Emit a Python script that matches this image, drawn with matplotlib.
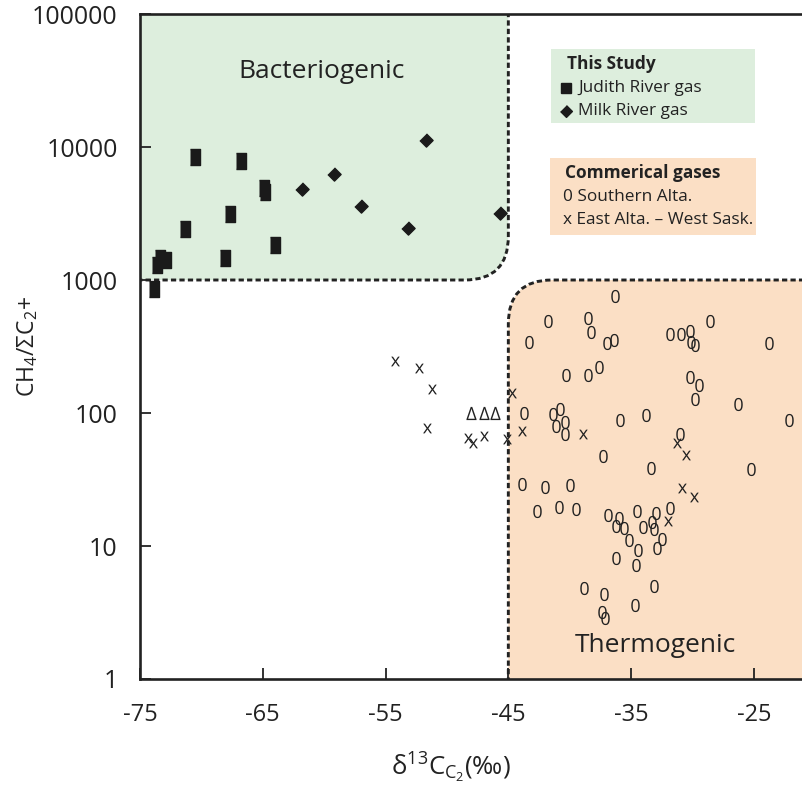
import math
import matplotlib
matplotlib.use("Agg")
import matplotlib.pyplot as plt
from matplotlib.patches import FancyBboxPatch, Rectangle

plt.rcParams['font.family'] = ['Open Sans', 'DejaVu Sans']
plt.rcParams['mathtext.fontset'] = 'custom'
plt.rcParams['mathtext.rm'] = 'Open Sans'
plt.rcParams['mathtext.it'] = 'Open Sans:italic'
plt.rcParams['mathtext.bf'] = 'Open Sans:bold'

# ---------------- data ----------------
judith_x = [-73.9, -73.6, -73.4, -72.9, -71.3, -70.5, -68.1, -67.7, -66.8, -64.9, -64.8, -64.0]
judith_y = [860, 1300, 1460, 1410, 2420, 8400, 1460, 3130, 7850, 4900, 4600, 1830]

milk_x = [-61.8, -59.2, -57.0, -53.2, -51.7, -45.7]
milk_y = [4830, 6270, 3600, 2460, 11300, 3190]

east_x = [-54.2, -52.3, -51.2, -51.6, -48.25, -47.9, -46.95, -45.1, -44.7, -43.9,
          -38.9, -31.3, -30.5, -30.85, -29.9, -32.0]
east_y = [246, 218, 151, 77, 65, 59.5, 67, 64, 141, 73,
          69.5, 59.5, 48.3, 27.3, 23.4, 15.4]

south_x = [-36.3, -41.8, -38.5, -38.3, -28.6, -43.3, -37.0, -36.4, -31.8, -30.9,
           -30.2, -30.1, -29.8, -23.8, -37.6, -40.3, -38.5, -30.2, -29.5, -29.8,
           -26.3, -43.7, -41.4, -40.8, -41.1, -40.4, -40.4, -35.9, -33.8, -22.1,
           -31.0, -37.3, -33.4, -25.2, -43.9, -42.0, -40.0, -42.7, -40.9, -39.5,
           -36.9, -36.0, -36.2, -35.6, -34.5, -33.0, -33.3, -34.0, -33.1, -31.8,
           -32.5, -35.2, -34.4, -32.9, -36.2, -34.6, -38.8, -37.2, -33.1, -34.7,
           -37.4, -37.1]
south_y = [758, 494, 515, 404, 494, 344, 334, 354, 393, 393,
           414, 344, 325, 338, 223, 193, 193, 188, 162, 127,
           117, 100, 98, 107, 80, 86, 70, 89, 97, 89,
           70, 47.5, 38.4, 37.7, 29.3, 27.6, 28.7, 18.3, 19.5, 18.9,
           17.1, 16.2, 14.1, 13.6, 18.4, 17.6, 15.2, 14.0, 13.4, 19.4,
           11.3, 11.0, 9.33, 9.61, 8.17, 7.20, 4.86, 4.33, 5.03, 3.60,
           3.17, 2.86]

delta_x = [-48.0, -47.0, -46.1]
delta_y = [100, 100, 100]

boundary_x = -45
boundary_y = 1000

x_ticks = [-75, -65, -55, -45, -35, -25]
y_ticks = [1, 10, 100, 1000, 10000, 100000]
y_ticklabels = ['1', '10', '100', '1000', '10000', '100000']

GREEN = '#ddeedd'
ORANGE = '#fbdfc5'
INK = '#222222'

# ---------------- figure ----------------
W, H = 803, 787
fig = plt.figure(figsize=(W / 100, H / 100), dpi=100)
ax = fig.add_axes([140 / W, 108 / H, 663 / W, 665 / H])
ax.set_yscale('log')
ax.set_xlim(-75, -21)
ax.set_ylim(1, 100000)


def xa(v):
    x0, x1 = ax.get_xlim()
    return (v - x0) / (x1 - x0)


def ya(v):
    y0, y1 = ax.get_ylim()
    return (math.log10(v) - math.log10(y0)) / (math.log10(y1) - math.log10(y0))


bx, by = xa(boundary_x), ya(boundary_y)
dash = (0, (1.8, 1.1))
green = FancyBboxPatch((-0.3, by), bx + 0.3, 1.6 - by,
                       boxstyle='round,pad=0,rounding_size=0.066',
                       transform=ax.transAxes, facecolor=GREEN, edgecolor=INK,
                       linewidth=2.1, linestyle=dash, zorder=0.5)
orange = FancyBboxPatch((bx, -0.6), 1.6 - bx, by + 0.6,
                        boxstyle='round,pad=0,rounding_size=0.066',
                        transform=ax.transAxes, facecolor=ORANGE, edgecolor=INK,
                        linewidth=2.1, linestyle=dash, zorder=0.5)
for p in (green, orange):
    ax.add_patch(p)
    p.set_clip_path(ax.patch)

# data
rect_marker = [(-2, -3), (2, -3), (2, 3), (-2, 3)]
diam_marker = [(0, 1), (1, 0), (0, -1), (-1, 0)]
ax.plot(judith_x, judith_y, linestyle='none', marker=rect_marker, markersize=11,
        color='#1a1a1a', zorder=3)
ax.plot(milk_x, milk_y, linestyle='none', marker=diam_marker, markersize=9.5,
        color='#1a1a1a', zorder=3)
ax.plot(south_x, south_y, linestyle='none', marker=r'$\mathrm{0}$', markersize=9.5,
        color=INK, markeredgewidth=0, zorder=3)
ax.plot(east_x, east_y, linestyle='none', marker=r'$\mathrm{x}$', markersize=7,
        color=INK, markeredgewidth=0, zorder=3)
ax.plot(delta_x, delta_y, linestyle='none', marker=r'$\Delta$', markersize=9.5,
        color=INK, markeredgewidth=0, zorder=3)

# region labels
ax.text(-60.2, 37000, 'Bacteriogenic', fontsize=19, ha='center', va='center', color=INK)
ax.text(-33.05, 1.8, 'Thermogenic', fontsize=19, ha='center', va='center', color=INK)

# axes styling
for s in ('left', 'top', 'bottom'):
    ax.spines[s].set_linewidth(1.9)
    ax.spines[s].set_color(INK)
ax.spines['right'].set_visible(False)
ax.set_xticks(x_ticks)
ax.set_xticklabels([str(t) for t in x_ticks])
ax.set_yticks(y_ticks)
ax.set_yticklabels(y_ticklabels)
ax.yaxis.set_minor_locator(matplotlib.ticker.NullLocator())
ax.tick_params(axis='both', direction='in', length=8, width=1.3, color=INK,
               labelcolor=INK)
ax.tick_params(axis='x', pad=17, labelsize=17)
ax.tick_params(axis='y', pad=16, labelsize=18)

ax.set_ylabel(r'CH$_4$/ΣC$_2$+', fontsize=16.5, color=INK)
ax.yaxis.set_label_coords(-0.150, 0.50)
ax.set_xlabel(r'δ$^{13}$C$_{\mathrm{C}_{2}}$(‰)', fontsize=18.5, color=INK)
ax.xaxis.set_label_coords(0.469, -0.108)


# legend boxes (pixel positions -> axes fraction)
def axp(px, py):
    return ((px - 140) / 663, (679 - py) / 665)


def box(x0, y0, x1, y1, color):
    (ax0, ay1), (ax1, ay0) = axp(x0, y0), axp(x1, y1)
    ax.add_patch(Rectangle((ax0, ay0), ax1 - ax0, ay1 - ay0, transform=ax.transAxes,
                           facecolor=color, edgecolor='none', zorder=2, clip_on=False))


box(551, 49, 755, 123, GREEN)
box(550, 158, 756, 235, ORANGE)


def legtext(px, py, s, **kw):
    x, y = axp(px, py)
    ax.text(x, y, s, transform=ax.transAxes, ha='left', va='center', fontsize=12.4,
            color=INK, zorder=4, **kw)


legtext(567, 64, 'This Study', fontweight='bold')
x, y = axp(566, 88)
ax.plot([x], [y], transform=ax.transAxes, marker='s', markersize=7, color='#1a1a1a',
        linestyle='none', clip_on=False, zorder=4)
legtext(578, 88, 'Judith River gas')
x, y = axp(566, 111)
ax.plot([x], [y], transform=ax.transAxes, marker=diam_marker, markersize=8.5, color='#1a1a1a',
        linestyle='none', clip_on=False, zorder=4)
legtext(578, 111, 'Milk River gas')

legtext(565, 173, 'Commerical gases', fontweight='bold')
legtext(563, 197, '0 Southern Alta.')
legtext(563, 220, 'x East Alta. – West Sask.')

fig.savefig('out.png', dpi=100)
